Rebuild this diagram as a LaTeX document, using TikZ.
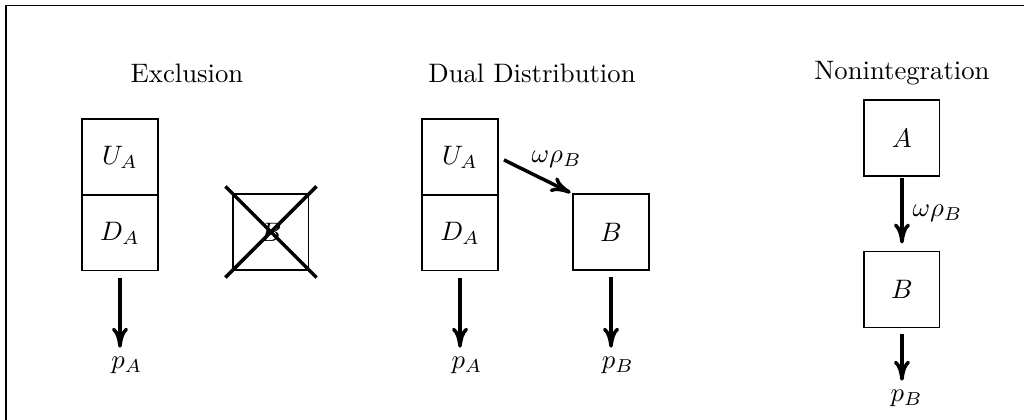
\documentclass[tikz,border=0pt]{standalone}
\usepackage{amsmath,amssymb}
\usetikzlibrary{positioning,arrows.meta}

\begin{document}
\begin{tikzpicture}[firmbox/.style={draw,minimum size=1cm,inner sep=0pt,outer sep=0pt},
                    flow/.style={line width=1.3pt,-{To[length=7.5pt,width=6pt]}}]
                \useasboundingbox (0,0) rectangle (13.476,5.527);
                \draw (0.079,0) -- (0.079,5.455) -- (13.476,5.455);
                % Exclusion
                \node (excl) at (2.461,4.567) {Exclusion};
                \node[firmbox] (UA1) at (1.579,3.461) {$U_A$};
                \node[firmbox,below=0pt of UA1] (DA1) {$D_A$};
                \node[firmbox] (Bx) at (3.566,2.474) {$B$};
                \draw[line width=1.3pt] ([shift={(-0.1,0.1)}]Bx.north west) -- ([shift={(0.1,-0.1)}]Bx.south east);
                \draw[line width=1.3pt] ([shift={(-0.1,-0.1)}]Bx.south west) -- ([shift={(0.1,0.1)}]Bx.north east);
                \node (pA1) at (1.67,0.717) {$p_A$};
                \draw[flow,shorten <=2.5pt] (DA1) -- (DA1 |- pA1.north);
                % Dual Distribution
                \node (dual) at (7.001,4.567) {Dual Distribution};
                \node[firmbox] (UA2) at (6.054,3.461) {$U_A$};
                \node[firmbox,below=0pt of UA2] (DA2) {$D_A$};
                \node[firmbox] (B2) at (8.041,2.474) {$B$};
                \draw[flow,shorten <=2.5pt,shorten >=1pt] (UA2.east) -- (B2.north west)
                    node[pos=.78,above=3pt] (w2) {$\omega\rho_B$};
                \node (pA2) at (6.145,0.717) {$p_A$};
                \node (pB2) at (8.13,0.717) {$p_B$};
                \draw[flow,shorten <=2.5pt] (DA2) -- (DA2 |- pA2.north);
                \draw[flow,shorten <=2.5pt] (B2) -- (B2 |- pB2.north);
                % Nonintegration
                \node (nonint) at (11.870,4.567) {Nonintegration};
                \node[firmbox] (A3) at (11.870,3.711) {$A$};
                \node[firmbox] (B3) at (11.870,1.717) {$B$};
                \draw[flow,shorten <=0.7pt,shorten >=3pt] (A3) -- (B3) node[midway,right] (w3) {$\omega\rho_B$};
                \node (pB3) at (11.93,0.283) {$p_B$};
                \draw[flow,shorten <=2.5pt] (B3) -- (B3 |- pB3.north);
\end{tikzpicture}
\end{document}
